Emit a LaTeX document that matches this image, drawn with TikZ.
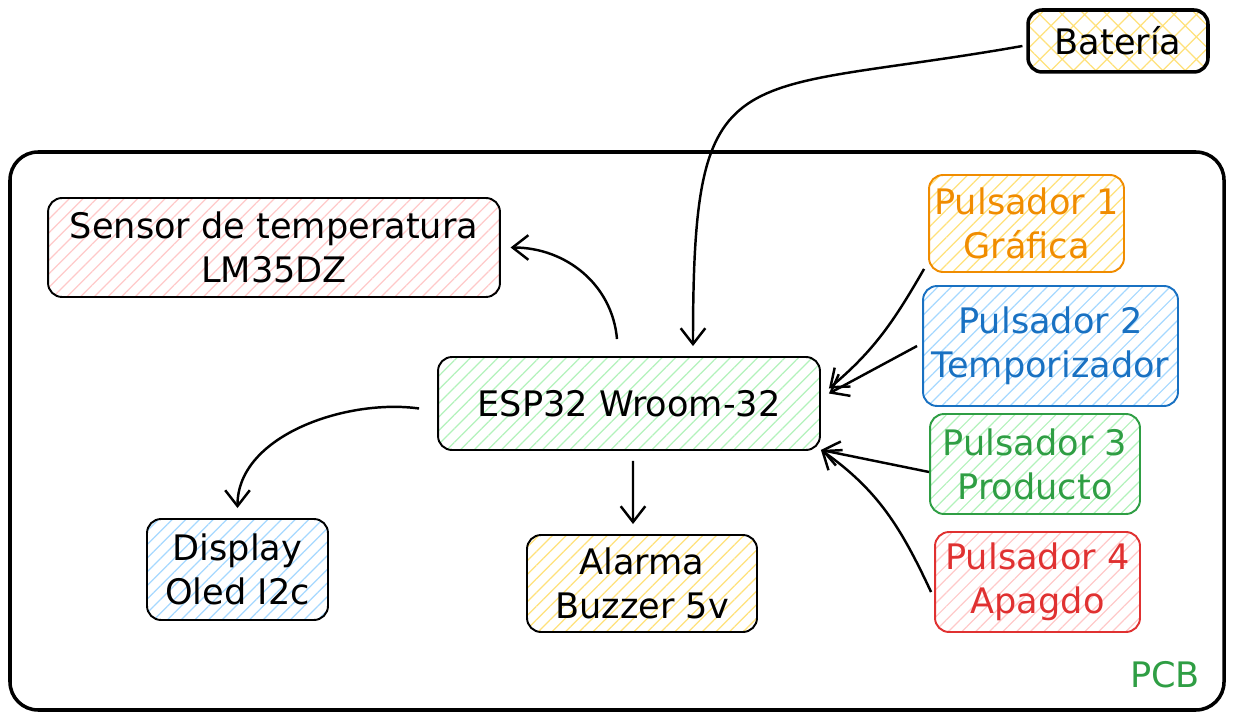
\documentclass[tikz,border=0pt]{standalone}
\usepackage{fontspec}
\setmainfont{DejaVu Sans}
\usepackage{xcolor}
\usepackage{tikz}
\usetikzlibrary{arrows.meta,patterns.meta,positioning}
\definecolor{pcb-orange}{HTML}{F08C00}
\definecolor{pcb-blue}{HTML}{1971C2}
\definecolor{pcb-green}{HTML}{2F9E44}
\definecolor{pcb-red}{HTML}{E03131}
\definecolor{hatch-yellow}{HTML}{FFE17A}
\definecolor{hatch-blue}{HTML}{A5D8FF}
\definecolor{hatch-green}{HTML}{B2F2BB}
\definecolor{hatch-red}{HTML}{FFC9C9}
\tikzset{
  every picture/.style = {
    line width = 1.4pt,
    >={Straight Barb[length=9pt,width=14pt]},
  }
  ,
  block/.style = {
    rectangle,
    rounded corners = 8pt,
    draw,
    line width = 1.1pt,
    align = center,
    inner sep = 0pt,
    font = \fontsize{20}{25}\selectfont
  }
  , % single hatch fill
  hatch/.style = {
    pattern = {Lines[angle=45,distance=5.5pt,line width=0.7pt]},
    pattern color = #1
  }
  , % coloured buttons
  pulsador/.style = {
    block,
    draw = #1,
    text = #1
  }
}
\begin{document}
\begin{tikzpicture}[x=0.02cm, y=-0.02cm]
\useasboundingbox (0,0) rectangle (1233,719);
% placa
\draw[line width=2pt, rounded corners=16pt] (10,152) rectangle (1224,710);
\node[text=pcb-green, font=\fontsize{20}{25}\selectfont] (pcb) at (1165,675) {PCB};
% bloques
\node[block, line width=2pt, pattern={Hatch[angle=45,distance=9pt,line width=0.7pt]}, pattern color=hatch-yellow,
  minimum width=3.6cm, minimum height=1.24cm] (bat) at (1118,41) {Batería};
\node[block, hatch=hatch-red, minimum width=9.04cm, minimum height=1.98cm] (sensor) at (274,247.5)
  {Sensor de temperatura\\LM35DZ};
\node[block, hatch=hatch-green, minimum width=7.64cm, minimum height=1.86cm] (esp) at (629,403.5)
  {ESP32 Wroom-32};
\node[block, hatch=hatch-blue, minimum width=3.62cm, minimum height=2.02cm] (display) at (237.5,569.5)
  {Display\\Oled I2c};
\node[block, hatch=hatch-yellow, minimum width=4.6cm, minimum height=1.94cm] (alarma) at (642,583.5)
  {Alarma\\Buzzer 5v};
\node[pulsador=pcb-orange, hatch=hatch-yellow, minimum width=3.9cm, minimum height=1.94cm] (p1) at (1026.5,223.5)
  {Pulsador 1\\Gráfica};
\node[pulsador=pcb-blue, hatch=hatch-blue, minimum width=5.1cm, minimum height=2.4cm] (p2) at (1050.5,346)
  {Pulsador 2\\Temporizador};
\node[pulsador=pcb-green, hatch=hatch-green, minimum width=4.2cm, minimum height=2cm] (p3) at (1035,464)
  {Pulsador 3\\Producto};
\node[pulsador=pcb-red, hatch=hatch-red, minimum width=4.1cm, minimum height=2cm] (p4) at (1037.5,582)
  {Pulsador 4\\Apagdo};
% conexiones
\draw[->] ([xshift=-0.1cm,yshift=-0.1cm]bat.west) to[out=190, in=90, looseness=1.7] ([xshift=1.28cm,yshift=0.2cm]esp.north);
\draw[->] ([xshift=-0.24cm,yshift=0.34cm]esp.north) to[out=95, in=0] ([xshift=0.2cm]sensor.east);
\draw[->] ([xshift=-0.36cm,yshift=-0.1cm]esp.west) to[out=172, in=90, looseness=0.9] ([yshift=0.2cm]display.north);
\draw[->] ([xshift=0.08cm,yshift=-0.2cm]esp.south) -- ([xshift=-0.18cm,yshift=0.2cm]alarma.north);
\draw[->] ([xshift=-0.08cm,yshift=0.08cm]p1.south west) to[out=240, in=40] ([xshift=0.16cm,yshift=0.3cm]esp.east);
\draw[->] ([xshift=-0.1cm]p2.west) -- ([xshift=0.16cm,yshift=0.2cm]esp.east);
\draw[->] ([yshift=-0.16cm]p3.west) -- ([yshift=0.02cm]esp.south east);
\draw[->] ([xshift=-0.06cm,yshift=-0.2cm]p4.west) to[out=115, in=-35] ([yshift=0.02cm]esp.south east);
\end{tikzpicture}
\end{document}
